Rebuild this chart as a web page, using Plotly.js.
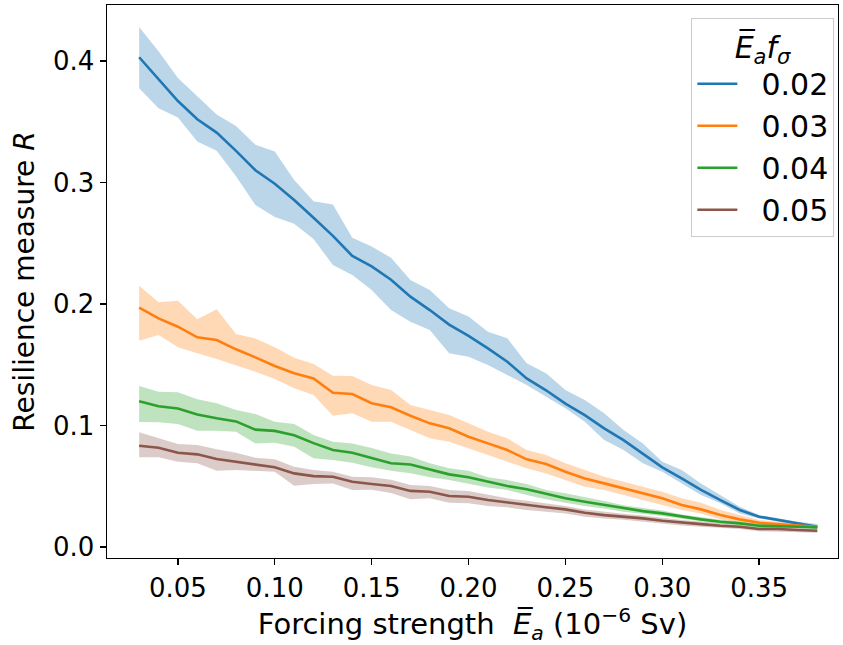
<!DOCTYPE html>
<html>
<head>
<meta charset="utf-8">
<script src="https://cdn.plot.ly/plotly-3.0.1.min.js"></script>
<style>html,body{margin:0;padding:0;background:#fff;}#chart{width:843px;height:645px;}</style>
</head>
<body>
<div id="chart"></div>
<script>
const forcing = [0.03,0.04,0.05,0.06,0.07,0.08,0.09,0.10,0.11,0.12,0.13,0.14,0.15,0.16,0.17,0.18,0.19,0.20,0.21,0.22,0.23,0.24,0.25,0.26,0.27,0.28,0.29,0.30,0.31,0.32,0.33,0.34,0.35,0.36,0.37,0.38];
const seriesNames = ["0.02","0.03","0.04","0.05"];
const seriesColors = ["#1f77b4","#ff7f0e","#2ca02c","#8c564b"];
const bandColors = ["rgba(31,119,180,0.3)","rgba(255,127,14,0.3)","rgba(44,160,44,0.3)","rgba(140,86,75,0.3)"];

const mean002 = [0.403,0.385,0.367,0.352,0.341,0.326,0.310,0.299,0.2856,0.271,0.256,0.2395,0.231,0.220,0.206,0.195,0.183,0.1737,0.1635,0.1525,0.1388,0.129,0.118,0.1086,0.0977,0.088,0.077,0.0656,0.0565,0.047,0.0387,0.0305,0.025,0.0222,0.0195,0.0167];
const upper002 = [0.428,0.408,0.386,0.371,0.356,0.3465,0.331,0.3254,0.302,0.2845,0.2818,0.2545,0.2472,0.238,0.2198,0.2115,0.1965,0.1896,0.1772,0.1718,0.1512,0.143,0.1292,0.121,0.110,0.0963,0.0853,0.0702,0.0634,0.0524,0.0428,0.0332,0.0263,0.0236,0.0208,0.0189];
const lower002 = [0.3775,0.361,0.3535,0.3336,0.326,0.305,0.2815,0.2716,0.266,0.2535,0.232,0.2239,0.2115,0.195,0.1854,0.1786,0.1594,0.1566,0.1498,0.1416,0.1333,0.1237,0.1142,0.1031,0.088,0.0798,0.0689,0.062,0.0524,0.0428,0.036,0.0277,0.0236,0.0208,0.0181,0.0148];

const mean003 = [0.197,0.1882,0.1813,0.1726,0.1704,0.1627,0.1561,0.149,0.143,0.1388,0.127,0.1259,0.1183,0.115,0.108,0.1018,0.0977,0.0908,0.0853,0.0798,0.0722,0.0683,0.062,0.0565,0.0524,0.0483,0.0436,0.0401,0.0346,0.031,0.0263,0.0228,0.020,0.0189,0.0179,0.0167];
const upper003 = [0.2151,0.2014,0.2027,0.1874,0.1956,0.1753,0.1717,0.1644,0.1558,0.1506,0.141,0.1407,0.1333,0.1292,0.1169,0.1128,0.1086,0.1018,0.0949,0.0895,0.0798,0.0757,0.0689,0.0634,0.0579,0.0537,0.0496,0.0455,0.0401,0.0365,0.0305,0.0263,0.0222,0.0208,0.0195,0.0181];
const lower003 = [0.1698,0.1745,0.1644,0.1594,0.1547,0.1498,0.1443,0.1383,0.1306,0.1251,0.1081,0.110,0.1031,0.1031,0.0963,0.0895,0.0867,0.0812,0.0757,0.0702,0.0648,0.0606,0.0551,0.0496,0.0469,0.0428,0.0387,0.0346,0.0305,0.0277,0.0228,0.020,0.0181,0.0167,0.0162,0.0154];

const mean004 = [0.120,0.1158,0.114,0.109,0.106,0.1034,0.0966,0.0956,0.092,0.0855,0.0798,0.0776,0.0733,0.069,0.068,0.0639,0.0598,0.0574,0.0537,0.0502,0.0475,0.0436,0.0401,0.0373,0.0346,0.0318,0.0296,0.0277,0.025,0.0228,0.0208,0.0195,0.0175,0.0173,0.0167,0.0162];
const upper004 = [0.1325,0.1278,0.1273,0.1216,0.1183,0.1128,0.1095,0.1031,0.1012,0.0922,0.0867,0.0853,0.0815,0.077,0.0745,0.0689,0.0648,0.0628,0.0574,0.0551,0.0519,0.0469,0.0442,0.0414,0.038,0.0345,0.032,0.030,0.0268,0.0245,0.0225,0.021,0.019,0.0185,0.0178,0.0172];
const lower004 = [0.103,0.1026,0.1012,0.0957,0.0957,0.0949,0.0853,0.0858,0.0826,0.073,0.0716,0.0694,0.0656,0.0627,0.0608,0.0574,0.0551,0.0524,0.0491,0.0469,0.0428,0.0393,0.0365,0.0337,0.0318,0.029,0.0272,0.0255,0.0232,0.021,0.0192,0.018,0.016,0.016,0.0157,0.0152];

const mean005 = [0.0834,0.0817,0.0776,0.0763,0.0724,0.0702,0.0675,0.0656,0.0606,0.0584,0.0579,0.0537,0.0519,0.0503,0.0462,0.0455,0.042,0.0414,0.0387,0.0365,0.0346,0.0327,0.031,0.0282,0.0263,0.025,0.0236,0.0217,0.020,0.0189,0.0175,0.0167,0.0148,0.0148,0.014,0.0134];
const upper005 = [0.0944,0.0895,0.0848,0.084,0.0804,0.0776,0.0735,0.0722,0.0661,0.0634,0.062,0.0579,0.0574,0.0554,0.051,0.0502,0.0469,0.0461,0.0428,0.0401,0.0381,0.036,0.0337,0.031,0.029,0.0275,0.026,0.024,0.0222,0.021,0.0195,0.0185,0.0165,0.0163,0.0155,0.015];
const lower005 = [0.0738,0.0738,0.0702,0.0689,0.0628,0.0634,0.0628,0.062,0.0505,0.0519,0.0524,0.0469,0.0472,0.0445,0.0393,0.0401,0.0365,0.036,0.0337,0.0327,0.0305,0.0291,0.0277,0.025,0.0235,0.0225,0.021,0.0195,0.0178,0.0168,0.0155,0.0148,0.013,0.013,0.0123,0.0118];

const xTicks = [0.05,0.10,0.15,0.20,0.25,0.30,0.35];
const yTicks = [0.0,0.1,0.2,0.3,0.4];

const means = [mean002, mean003, mean004, mean005];
const uppers = [upper002, upper003, upper004, upper005];
const lowers = [lower002, lower003, lower004, lower005];

const traces = [];
for (let i = 0; i < means.length; i++) {
  traces.push({
    x: forcing.concat(forcing.slice().reverse()),
    y: uppers[i].concat(lowers[i].slice().reverse()),
    type: 'scatter', mode: 'lines', fill: 'toself',
    fillcolor: bandColors[i], line: {width: 0, color: 'rgba(0,0,0,0)'},
    showlegend: false, hoverinfo: 'skip'
  });
}
for (let i = 0; i < means.length; i++) {
  traces.push({
    x: forcing, y: means[i], type: 'scatter', mode: 'lines',
    name: '\u00a0\u00a0' + seriesNames[i], line: {color: seriesColors[i], width: 2.6}
  });
}

const F = '"DejaVu Sans", sans-serif';
const layout = {
  width: 843, height: 645,
  margin: {l: 107, r: 5, t: 5, b: 87},
  paper_bgcolor: '#fff', plot_bgcolor: '#fff',
  font: {family: F, color: '#000', size: 26},
  showlegend: true,
  legend: {
    x: 0.995, y: 0.977, xanchor: 'right', yanchor: 'top',
    bgcolor: 'rgba(255,255,255,0.8)', bordercolor: '#cccccc', borderwidth: 1,
    font: {family: F, size: 30, color: '#000'},
    title: {text: '<i>E\u0305<sub>a</sub>f<sub>σ</sub></i>', side: 'top center', font: {family: F, size: 30}},
    tracegroupgap: 0, itemwidth: 40
  },
  xaxis: {
    range: [0.0134, 0.3907], tickvals: xTicks, tickformat: '.2f',
    showgrid: false, zeroline: false,
    showline: true, linecolor: '#000', linewidth: 1.4, mirror: true,
    ticks: 'outside', ticklen: 6, tickwidth: 1.4, tickcolor: '#000',
    tickfont: {family: F, size: 26},
    title: {text: 'Forcing strength  <i>E\u0305<sub>a</sub></i> (10<sup>\u22126</sup> Sv)', font: {family: F, size: 29}, standoff: 12}
  },
  yaxis: {
    range: [-0.009, 0.446], tickvals: yTicks, tickformat: '.1f',
    showgrid: false, zeroline: false,
    showline: true, linecolor: '#000', linewidth: 1.4, mirror: true,
    ticks: 'outside', ticklen: 6, tickwidth: 1.4, tickcolor: '#000',
    tickfont: {family: F, size: 26},
    title: {text: 'Resilience measure <i>R</i>', font: {family: F, size: 28}, standoff: 10}
  },
  hovermode: false
};
Plotly.newPlot('chart', traces, layout, {displayModeBar: false, staticPlot: true});
</script>
</body>
</html>
